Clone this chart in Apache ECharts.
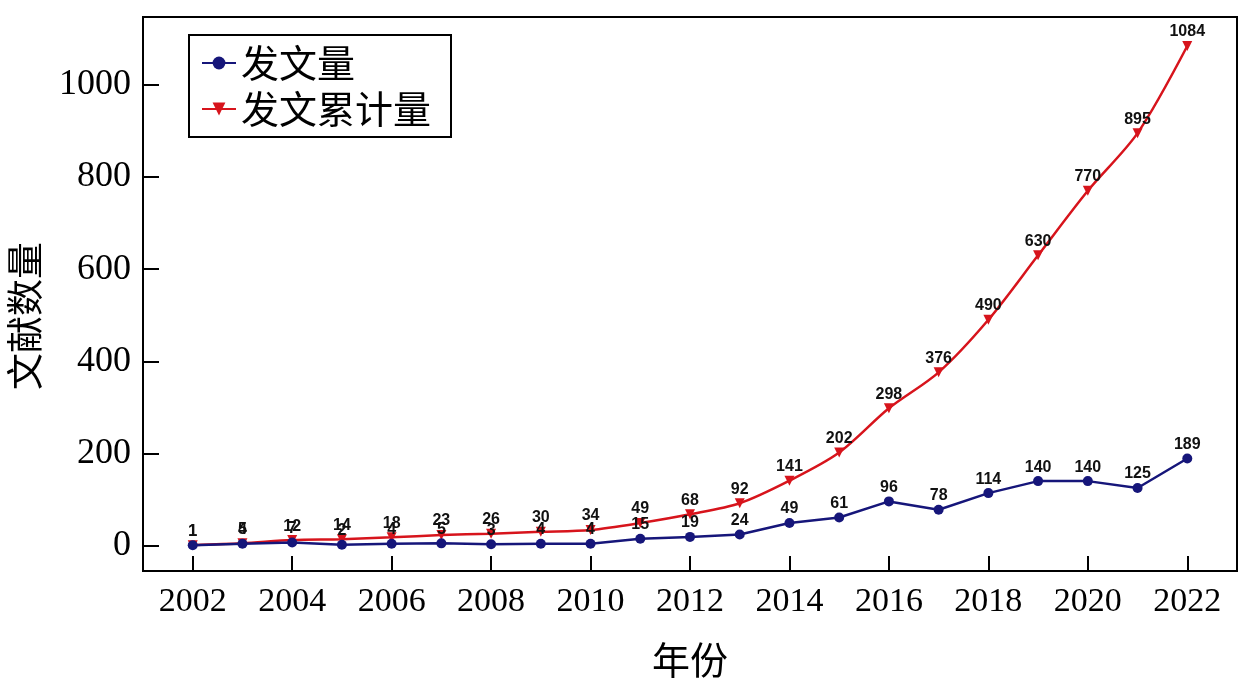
<!DOCTYPE html>
<html>
<head>
<meta charset="utf-8">
<script src="https://cdn.jsdelivr.net/npm/echarts@6/dist/echarts.min.js"></script>
<style>
  html, body { margin: 0; padding: 0; background: #fff; }
  #chart { width: 1242px; height: 682px; }
</style>
</head>
<body>
<div id="chart"></div>
<script>
const years = [2002, 2003, 2004, 2005, 2006, 2007, 2008, 2009, 2010, 2011, 2012,
  2013, 2014, 2015, 2016, 2017, 2018, 2019, 2020, 2021, 2022];
const yearly = [1, 4, 7, 2, 4, 5, 3, 4, 4, 15, 19, 24, 49, 61, 96, 78, 114, 140, 140, 125, 189];
const cumulative = [1, 5, 12, 14, 18, 23, 26, 30, 34, 49, 68, 92, 141, 202, 298, 376, 490, 630, 770, 895, 1084];
const xTicks = [2002, 2004, 2006, 2008, 2010, 2012, 2014, 2016, 2018, 2020, 2022];
const yTicks = [0, 200, 400, 600, 800, 1000];

const serif = "'Liberation Serif', 'DejaVu Serif', serif";
const cjk = "'Noto Sans CJK SC', sans-serif";

const chart = echarts.init(document.getElementById("chart"));

const labelStyle = {
  show: true,
  position: "top",
  distance: 1,
  color: "#111",
  fontFamily: "'Liberation Sans Narrow', 'Liberation Sans', Arial, sans-serif",
  fontWeight: "bold",
  fontSize: 16,
};

chart.setOption({
  animation: false,
  backgroundColor: "#fff",
  grid: {
    left: 143, right: 5, top: 17, bottom: 111,
    outerBoundsMode: "none",
    show: true, borderColor: "#000", borderWidth: 2,
  },
  legend: {
    left: 189, top: 35,
    orient: "vertical",
    backgroundColor: "#fff",
    borderColor: "#000",
    borderWidth: 2,
    borderRadius: 0,
    padding: [9, 20, 9, 12],
    itemWidth: 34,
    itemHeight: 16,
    itemGap: 8,
    textStyle: { fontFamily: cjk, fontSize: 38, color: "#000" },
    data: ["发文量", "发文累计量"],
  },
  xAxis: {
    type: "value",
    min: 2001,
    max: 2023,
    name: "年份",
    nameLocation: "middle",
    nameGap: 70,
    nameTextStyle: { fontFamily: cjk, fontSize: 38, color: "#000" },
    axisLine: { onZero: false, lineStyle: { color: "#000", width: 2 } },
    axisTick: { inside: true, length: 15, lineStyle: { color: "#000", width: 2 }, customValues: xTicks },
    axisLabel: {
      customValues: xTicks,
      color: "#000", fontFamily: serif, fontSize: 34, margin: 14,
      formatter: (v) => String(v),
    },
    splitLine: { show: false },
  },
  yAxis: {
    type: "value",
    min: -55,
    max: 1147,
    name: "文献数量",
    nameLocation: "middle",
    nameGap: 100,
    nameRotate: 90,
    nameTextStyle: { fontFamily: cjk, fontSize: 37, color: "#000", padding: [0, 44, 0, 0] },
    axisLine: { lineStyle: { color: "#000", width: 2 } },
    axisTick: { inside: true, length: 16, lineStyle: { color: "#000", width: 2 }, customValues: yTicks },
    axisLabel: {
      customValues: yTicks,
      color: "#000", fontFamily: serif, fontSize: 36, margin: 12,
      formatter: (v) => String(v),
    },
    splitLine: { show: false },
  },
  series: [
    {
      name: "发文量",
      type: "line",
      data: years.map((y, i) => [y, yearly[i]]),
      symbol: "circle",
      symbolSize: 10,
      color: "#16167a",
      lineStyle: { width: 2.5, color: "#16167a" },
      itemStyle: { color: "#16167a" },
      label: labelStyle,
      z: 3,
    },
    {
      name: "发文累计量",
      type: "line",
      data: years.map((y, i) => [y, cumulative[i]]),
      smooth: 0.3,
      symbol: "triangle",
      symbolRotate: 180,
      symbolSize: 10,
      color: "#d7141c",
      lineStyle: { width: 2.5, color: "#d7141c" },
      itemStyle: { color: "#d7141c" },
      label: labelStyle,
      z: 2,
    },
  ],
});
</script>
</body>
</html>
